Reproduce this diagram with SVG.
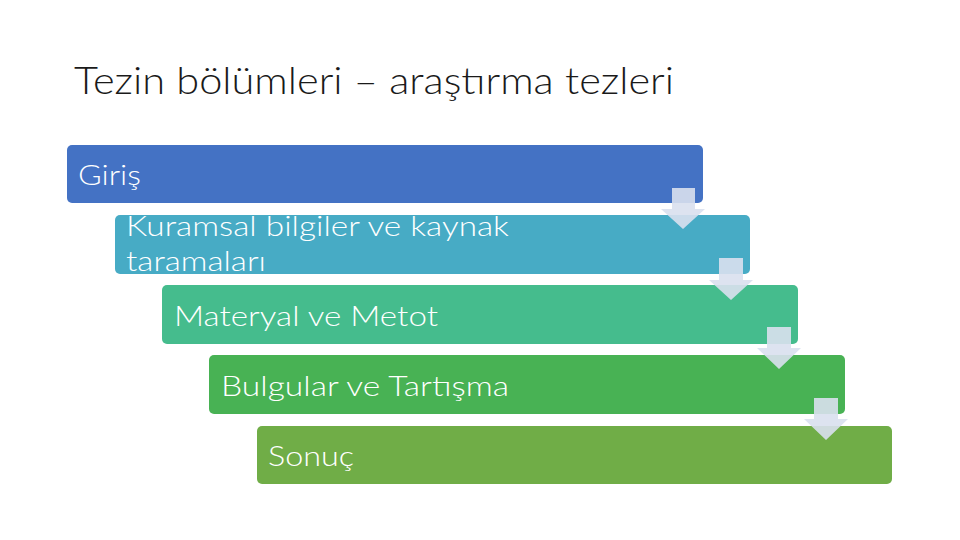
<svg xmlns="http://www.w3.org/2000/svg" width="960" height="540" viewBox="0 0 960 540">
<style>
.bx{stroke:none}
.t{font-family:Lato,"Open Sans","Liberation Sans",sans-serif;font-size:27px;fill:#ffffff;font-weight:300}
.title{font-family:Lato,"Open Sans","Liberation Sans",sans-serif;font-size:37px;fill:#1a1a1a;font-weight:300}
.ar{fill:#D9E0EE;fill-opacity:0.9}
</style>
<rect width="960" height="540" fill="#ffffff"/>
<text class="title" x="74" y="94" textLength="600" lengthAdjust="spacingAndGlyphs">Tezin bölümleri – araştırma tezleri</text>
<g id="n1"><rect class="bx" x="67" y="145" width="636" height="58" rx="5" fill="#4472C4"/><text class="t" x="78" y="185" textLength="63" lengthAdjust="spacingAndGlyphs">Giriş</text></g>
<g id="n2"><rect class="bx" x="115" y="215" width="635" height="59" rx="5" fill="#47ABC5"/><text class="t" x="126" y="236" textLength="383" lengthAdjust="spacingAndGlyphs">Kuramsal bilgiler ve kaynak</text><text class="t" x="126" y="271" textLength="140" lengthAdjust="spacingAndGlyphs">taramaları</text></g>
<g id="n3"><rect class="bx" x="162" y="285" width="636" height="59" rx="5" fill="#45BC8D"/><text class="t" x="174" y="326" textLength="264" lengthAdjust="spacingAndGlyphs">Materyal ve Metot</text></g>
<g id="n4"><rect class="bx" x="209" y="355" width="636" height="59" rx="5" fill="#48B254"/><text class="t" x="221" y="396" textLength="288" lengthAdjust="spacingAndGlyphs">Bulgular ve Tartışma</text></g>
<g id="n5"><rect class="bx" x="257" y="426" width="635" height="58" rx="5" fill="#70AD47"/><text class="t" x="268" y="466" textLength="86" lengthAdjust="spacingAndGlyphs">Sonuç</text></g>
<g id="connectors">
<polygon class="ar" points="672,188 695,188 695,209 705,209 683,229 661,209 672,209"/>
<polygon class="ar" points="719,258 743,258 743,280 753,280 731,300 709,280 719,280"/>
<polygon class="ar" points="767,327 791,327 791,348 801,348 779,369 757,348 767,348"/>
<polygon class="ar" points="814,398 838,398 838,419 848,419 826,440 804,419 814,419"/>
</g>
</svg>
